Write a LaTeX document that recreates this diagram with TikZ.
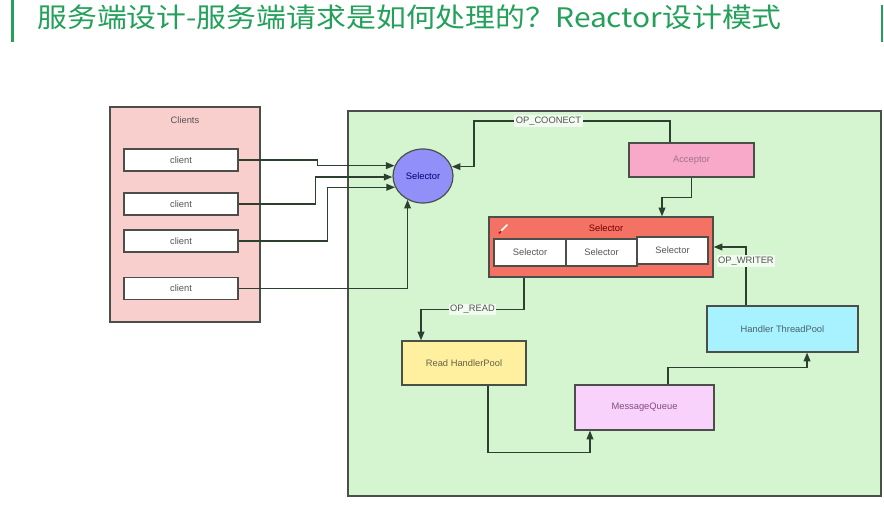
\documentclass[tikz,border=0pt]{standalone}
\usepackage{fontspec}
\setmainfont{Liberation Sans}
\newfontfamily\cjk{Noto Sans CJK SC}
\usetikzlibrary{arrows.meta,shapes.geometric}
\definecolor{ttlgreen}{HTML}{23A05A}
\definecolor{lineC}{HTML}{2D4030}
\definecolor{bordC}{HTML}{4A4F4A}
\definecolor{clientsF}{HTML}{F8CFCC}
\definecolor{greenF}{HTML}{D5F5D0}
\definecolor{circF}{HTML}{9090F8}
\definecolor{accF}{HTML}{F8A8C8}
\definecolor{bigF}{HTML}{F47264}
\definecolor{readF}{HTML}{FFF0A0}
\definecolor{mqF}{HTML}{F8D2FA}
\definecolor{handF}{HTML}{A8F2FF}
\definecolor{lblF}{HTML}{F2FBF0}
\definecolor{txtC}{HTML}{555555}
\begin{document}
\begin{tikzpicture}[x=0.75pt,y=-0.75pt,
  box/.style={draw=bordC,line width=0.9pt,inner sep=0pt,font=\fontsize{7}{8}\selectfont,text=txtC},
  conn/.style={draw=lineC,line width=1.1pt,-{Triangle[length=6.5pt,width=5pt]}},
  lbl/.style={fill=lblF,inner sep=1pt,font=\fontsize{7}{8}\selectfont,text=txtC}]
\useasboundingbox (0,0) rectangle (884,505);
\fill[white] (0,0) rectangle (884,505);
% title
\fill[ttlgreen] (11,0) rectangle (14,42);
\fill[ttlgreen] (881,5) rectangle (883,42);
\node[anchor=west,inner sep=0pt,text=ttlgreen,font=\cjk\fontsize{22.4}{24}\selectfont,yscale=0.9] (title) at (37,17) {服务端设计-服务端请求是如何处理的？Reactor设计模式};
% containers
\node[box,fill=clientsF,minimum width=112.5pt,minimum height=161.25pt] (clients) at (185,214.5) {};
\node[font=\fontsize{7}{8}\selectfont,text=txtC] (clientslbl) at (185,120) {Clients};
\node[box,fill=greenF,minimum width=399.75pt,minimum height=288.75pt] (server) at (614.5,303.5) {};
% clients
\node[box,fill=white,minimum width=85.5pt,minimum height=16.5pt] (c1) at (181,160) {client};
\node[box,fill=white,minimum width=85.5pt,minimum height=16.5pt] (c2) at (181,204) {client};
\node[box,fill=white,minimum width=85.5pt,minimum height=16.5pt] (c3) at (181,241) {client};
\node[box,fill=white,minimum width=85.5pt,minimum height=16.5pt] (c4) at (181,288.5) {client};
% server parts
\node[box,ellipse,fill=circF,minimum width=45pt,minimum height=40.5pt,text=blue!45!black] (sel) at (423,176) {Selector};
\node[box,fill=accF,minimum width=93.75pt,minimum height=25.5pt,text=magenta!40!black!70] (acc) at (691.5,160) {Acceptor};
\node[box,fill=bigF,minimum width=168pt,minimum height=45pt] (bigsel) at (601,247) {};
\node[font=\fontsize{7}{8}\selectfont,text=red!45!black] (bigsellbl) at (606,228) {Selector};
\node[box,fill=white,minimum width=54pt,minimum height=20.25pt] (s1) at (530,252.5) {Selector};
\node[box,fill=white,minimum width=53.25pt,minimum height=20.25pt] (s2) at (601.5,252.5) {Selector};
\node[box,fill=white,minimum width=53.25pt,minimum height=20.25pt] (s3) at (672.5,250.5) {Selector};
\node[box,fill=handF,minimum width=113.25pt,minimum height=34.5pt,text=cyan!35!black] (hand) at (782.5,329) {Handler ThreadPool};
\node[box,fill=readF,minimum width=93pt,minimum height=33pt,text=yellow!30!black] (read) at (464,363) {Read HandlerPool};
\node[box,fill=mqF,minimum width=104.25pt,minimum height=33.75pt,text=violet!60!black!70] (mq) at (644.5,407.5) {MessageQueue};
% pencil mark
\draw[white,line width=1.2pt,line cap=round] (500,232) -- (507,225);
\draw[red!80!black,line width=1.2pt] (499,233.5) -- (501,231);
% connectors
\draw[conn] (c1.east) -- ++(79,0) |- (sel.160);
\draw[conn] (c2.east) -- ++(77,0) |- (sel.182);
\draw[conn] (c3.east) -- ++(89,0) |- (sel.202);
\draw[conn] (c4.east) -| (sel.237);
\draw[conn] ([xshift=-16.1pt]acc.north) |- (474,121) node[lbl,pos=0.81] (opc) {OP\_COONECT} |- (sel.18);
\draw[conn] (acc.south) -- ++(0,20) -| ([xshift=45.75pt]bigsel.north);
\draw[conn] ([xshift=-57.75pt]bigsel.south) -- ++(0,32) -| ([xshift=-32.25pt]read.north) node[lbl,pos=0.25] (opr) {OP\_READ};
\draw[conn] ([xshift=-27.4pt]hand.north) |- (bigsel.east) node[lbl,pos=0.38] (opw) {OP\_WRITER};
\draw[conn] ([xshift=18pt]read.south) -- ++(0,67) -| ([xshift=-40.9pt]mq.south);
\draw[conn] ([xshift=17.6pt]mq.north) -- ++(0,-17) -| ([xshift=18.4pt]hand.south);
\end{tikzpicture}
\end{document}
